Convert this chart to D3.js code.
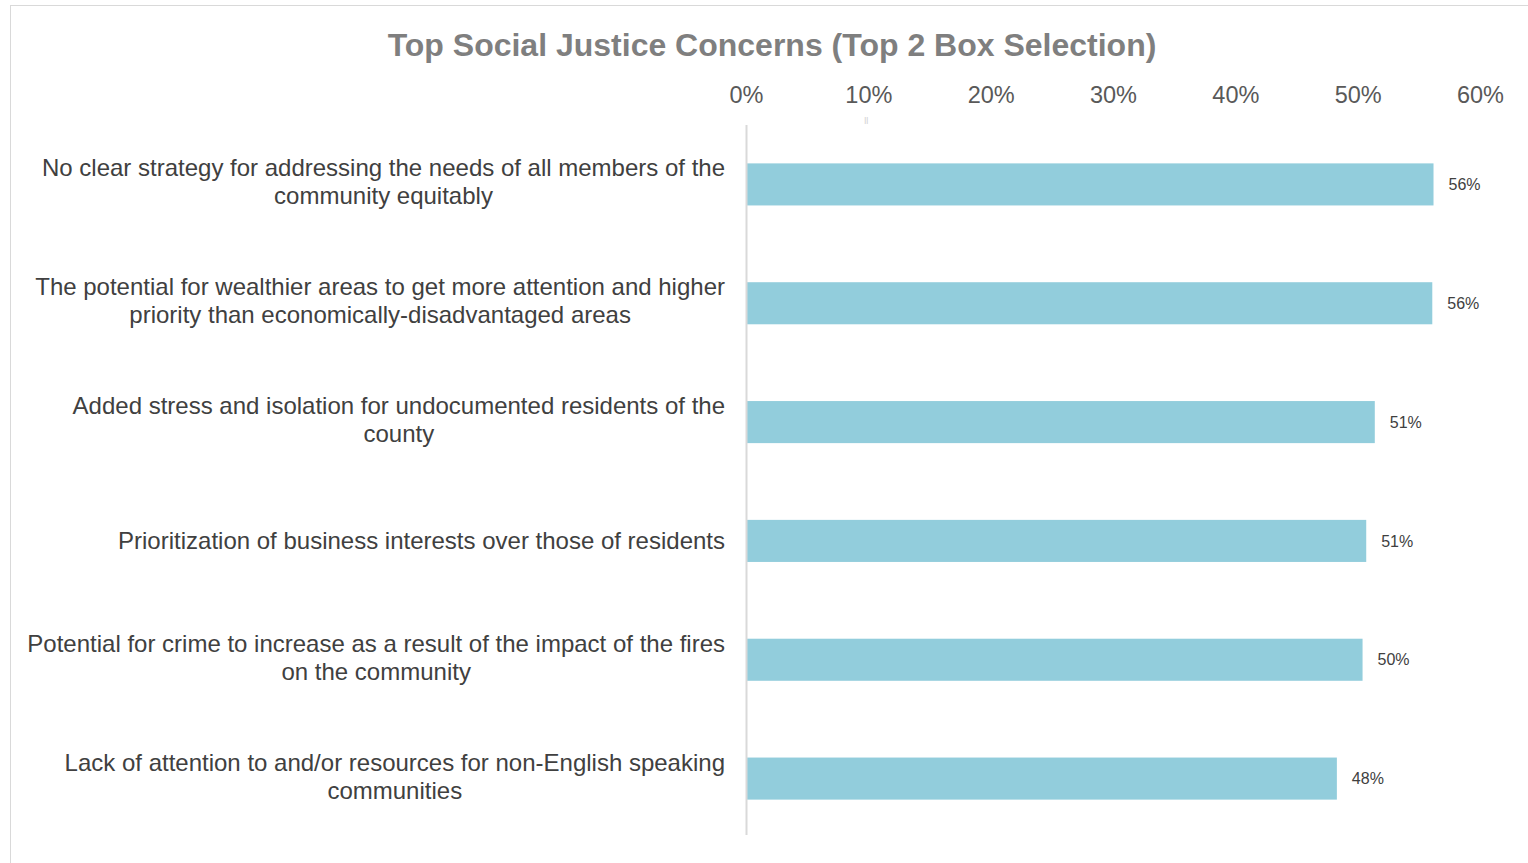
<!DOCTYPE html>
<html>
<head>
<meta charset="utf-8">
<script src="https://cdn.jsdelivr.net/npm/d3@7"></script>
<style>
  body { margin: 0; background: #fff; font-family: "Liberation Sans", Arial, sans-serif; }
</style>
</head>
<body>
<div id="chart"></div>
<script>
const categories = [
  "No clear strategy for addressing the needs of all members of the|community equitably",
  "The potential for wealthier areas to get more attention and higher|priority than economically-disadvantaged areas",
  "Added stress and isolation for undocumented residents of the|county",
  "Prioritization of business interests over those of residents",
  "Potential for crime to increase as a result of the impact of the fires|on the community",
  "Lack of attention to and/or resources for non-English speaking|communities"
];
const values = [0.562, 0.561, 0.514, 0.507, 0.504, 0.483];
const valueLabels = ["56%", "56%", "51%", "51%", "50%", "48%"];
const tickValues = [0, 0.1, 0.2, 0.3, 0.4, 0.5, 0.6];

const W = 1528, H = 863;
const margin = { top: 125, right: 48, bottom: 26, left: 746 };
const innerW = W - margin.left - margin.right;
const innerH = H - margin.top - margin.bottom;

const svg = d3.select("#chart").append("svg")
  .attr("width", W)
  .attr("height", H);

// chart frame
svg.append("rect")
  .attr("x", 10.5).attr("y", 5.5)
  .attr("width", W).attr("height", H)
  .attr("fill", "none")
  .attr("stroke", "#d9d9d9");

svg.append("text")
  .attr("x", 772)
  .attr("y", 56)
  .attr("text-anchor", "middle")
  .attr("font-size", "32px")
  .attr("font-weight", "bold")
  .attr("fill", "#7f7f7f")
  .text("Top Social Justice Concerns (Top 2 Box Selection)");

const g = svg.append("g")
  .attr("transform", `translate(${margin.left},${margin.top})`);

const x = d3.scaleLinear().domain([0, 0.6]).range([0, 734]);
const y = d3.scaleBand().domain(categories).range([0, innerH + 1]).paddingInner(0.646).paddingOuter(0.323);

const xAxis = g.append("g")
  .call(d3.axisTop(x).tickValues(tickValues).tickFormat(d3.format(".0%")).tickSize(0).tickPadding(22));
xAxis.select(".domain").remove();
xAxis.selectAll("text")
  .attr("font-family", "Liberation Sans, Arial, sans-serif")
  .attr("font-size", "23.5px")
  .attr("fill", "#595959");

g.selectAll(".bar")
  .data(categories)
  .enter().append("rect")
  .attr("class", "bar")
  .attr("x", 0)
  .attr("y", d => y(d))
  .attr("width", (d, i) => x(values[i]))
  .attr("height", y.bandwidth())
  .attr("fill", "#92cddc");

g.selectAll(".val")
  .data(categories)
  .enter().append("text")
  .attr("class", "val")
  .attr("x", (d, i) => x(values[i]) + 15)
  .attr("y", d => y(d) + y.bandwidth() / 2)
  .attr("dy", "0.35em")
  .attr("font-size", "16px")
  .attr("fill", "#404040")
  .text((d, i) => valueLabels[i]);

// category axis line
g.append("line")
  .attr("x1", 0.5).attr("x2", 0.5)
  .attr("y1", 0).attr("y2", innerH - 2)
  .attr("stroke", "#d9d9d9")
  .attr("stroke-width", 2);

// small faint marks under the 10% label
g.append("text")
  .attr("x", x(0.1) - 4)
  .attr("y", -1)
  .attr("font-size", "9px")
  .attr("fill", "#d0d0d0")
  .text("ll");

// category labels, each block centred on its widest line, right edge at 725
const labelRight = 725;
categories.forEach(cat => {
  const lines = cat.split("|");
  const cy = margin.top + y(cat) + y.bandwidth() / 2 - (lines.length > 1 ? 2 : 0);
  const lineH = 28;
  const lg = svg.append("g");
  const texts = lines.map((ln, j) => lg.append("text")
    .attr("y", cy + (j - (lines.length - 1) / 2) * lineH)
    .attr("dy", "0.33em")
    .attr("text-anchor", "middle")
    .attr("font-size", "24px")
    .attr("fill", "#404040")
    .text(ln));
  const maxW = d3.max(texts, t => t.node().getComputedTextLength());
  texts.forEach(t => t.attr("x", labelRight - maxW / 2));
});
</script>
</body>
</html>
